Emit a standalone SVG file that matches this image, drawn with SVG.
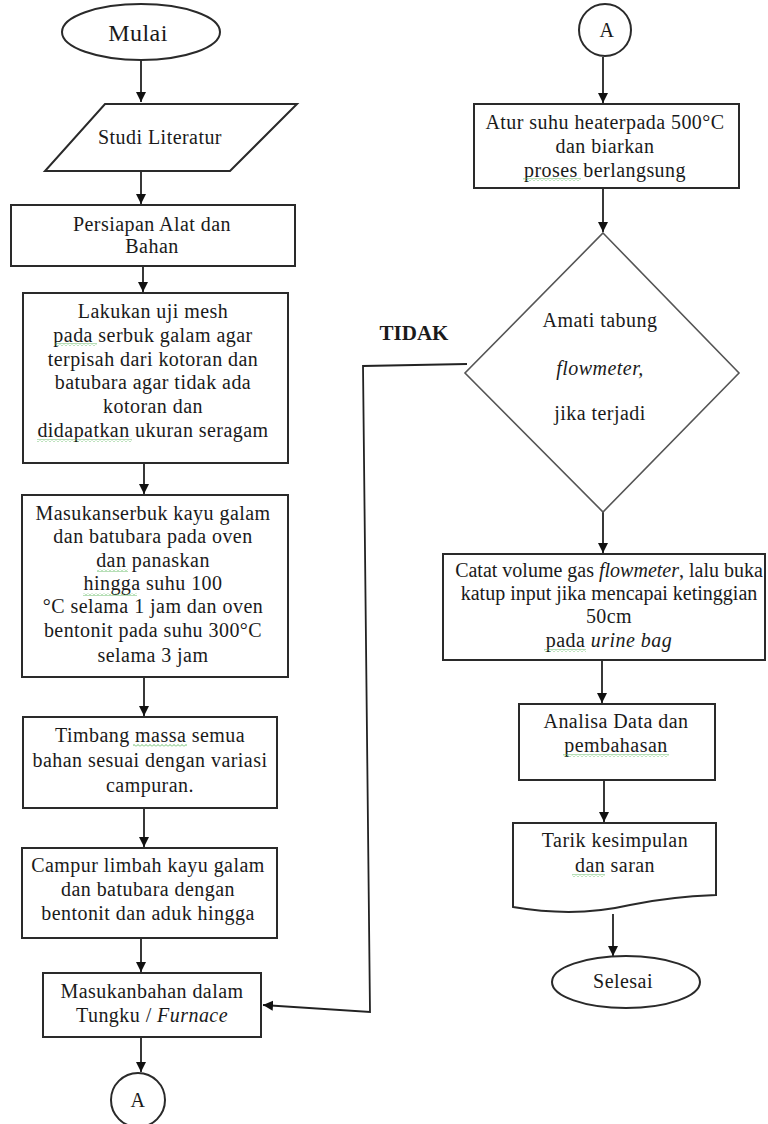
<svg xmlns="http://www.w3.org/2000/svg" width="768" height="1124" viewBox="0 0 768 1124">
<style>
.n{fill:#fff;stroke:#2a2a2a;stroke-width:2}
.d{fill:#fff;stroke:#555;stroke-width:1.6}
.t{font-family:"Liberation Serif","Times New Roman",serif;font-size:20px;fill:#1a1a1a;text-anchor:middle;letter-spacing:0.45px}
.k{letter-spacing:0}
.i{font-style:italic}
.b{font-weight:bold}
.c{fill:none;stroke:#222;stroke-width:1.8}
.g{fill:url(#wv)}
</style>
<defs>
<marker id="ah" markerWidth="12" markerHeight="12" refX="10" refY="5" orient="auto" markerUnits="userSpaceOnUse">
<path d="M0,0 L10,5 L0,10 Z" fill="#111"/>
</marker>
<pattern id="wv" patternUnits="userSpaceOnUse" width="4" height="3">
<path d="M0,2.5 L2,0.5 L4,2.5" fill="none" stroke="#5cb85c" stroke-width="0.9"/>
</pattern>
</defs>
<rect width="768" height="1124" fill="#fff"/>
<g id="connectors">
<line class="c" x1="141" y1="60" x2="141" y2="102" marker-end="url(#ah)"/>
<line class="c" x1="141" y1="171" x2="141" y2="204" marker-end="url(#ah)"/>
<line class="c" x1="143" y1="266" x2="143" y2="292" marker-end="url(#ah)"/>
<line class="c" x1="144" y1="463" x2="144" y2="494" marker-end="url(#ah)"/>
<line class="c" x1="144" y1="677" x2="144" y2="716" marker-end="url(#ah)"/>
<line class="c" x1="144" y1="808" x2="144" y2="847" marker-end="url(#ah)"/>
<line class="c" x1="141" y1="938" x2="141" y2="972" marker-end="url(#ah)"/>
<line class="c" x1="141" y1="1037" x2="141" y2="1072" marker-end="url(#ah)"/>
<line class="c" x1="603" y1="57" x2="603" y2="103" marker-end="url(#ah)"/>
<line class="c" x1="603" y1="188" x2="603" y2="232" marker-end="url(#ah)"/>
<line class="c" x1="603" y1="512" x2="603" y2="553" marker-end="url(#ah)"/>
<line class="c" x1="602" y1="660" x2="602" y2="703" marker-end="url(#ah)"/>
<line class="c" x1="604" y1="780" x2="604" y2="822" marker-end="url(#ah)"/>
<line class="c" x1="613" y1="914" x2="613" y2="956" marker-end="url(#ah)"/>
<polyline class="c" points="467,364 363,366 370,1012 263,1005" marker-end="url(#ah)" stroke="#444"/>
</g>
<g id="n-mulai"><ellipse class="n" cx="141" cy="32" rx="79" ry="28"/><text class="t" x="138" y="41" style="font-size:24px">Mulai</text></g>
<g id="n-studi"><polygon class="n" points="105,104 297,104 230,171 45,171"/><text class="t" x="160" y="144">Studi Literatur</text></g>
<g id="n-persiapan"><rect class="n" x="11" y="205" width="284" height="61"/><text class="t" x="152" y="231">Persiapan Alat dan</text><text class="t" x="152" y="253">Bahan</text></g>
<g id="n-mesh"><rect class="n" x="23" y="293" width="265" height="170"/>
<text class="t" x="153" y="318">Lakukan uji mesh</text>
<text class="t" x="153" y="342">pada serbuk galam agar</text>
<text class="t" x="153" y="366">terpisah dari kotoran dan</text>
<text class="t" x="153" y="389">batubara agar tidak ada</text>
<text class="t" x="153" y="413">kotoran dan</text>
<text class="t" x="153" y="437">didapatkan ukuran seragam</text></g>
<g id="n-oven"><rect class="n" x="22" y="495" width="266" height="182"/>
<text class="t" x="153" y="520">Masukanserbuk kayu galam</text>
<text class="t" x="153" y="543">dan batubara pada oven</text>
<text class="t" x="153" y="567">dan panaskan</text>
<text class="t" x="153" y="590">hingga suhu 100</text>
<text class="t" x="153" y="613">°C selama 1 jam dan oven</text>
<text class="t" x="153" y="637">bentonit pada suhu 300°C</text>
<text class="t" x="153" y="662">selama 3 jam</text></g>
<g id="n-timbang"><rect class="n" x="23" y="717" width="254" height="91"/>
<text class="t" x="150" y="742">Timbang massa semua</text>
<text class="t" x="150" y="767">bahan sesuai dengan variasi</text>
<text class="t" x="150" y="792">campuran.</text></g>
<g id="n-campur"><rect class="n" x="22" y="848" width="255" height="90"/>
<text class="t" x="148" y="872">Campur limbah kayu galam</text>
<text class="t" x="148" y="896">dan batubara dengan</text>
<text class="t" x="148" y="920">bentonit dan aduk hingga</text></g>
<g id="n-tungku"><rect class="n" x="43" y="973" width="218" height="64"/>
<text class="t" x="152" y="998">Masukanbahan dalam</text>
<text class="t" x="152" y="1022">Tungku / <tspan class="i">Furnace</tspan></text></g>
<g id="n-a-bottom"><circle class="n" cx="138" cy="1100" r="27"/><text class="t" x="138" y="1107">A</text></g>
<g id="n-a-top"><circle class="n" cx="605" cy="30" r="26"/><text class="t" x="607" y="37">A</text></g>
<g id="n-heater"><rect class="n" x="474" y="104" width="265" height="84"/>
<text class="t" x="605" y="129">Atur suhu heaterpada 500°C</text>
<text class="t" x="605" y="153">dan biarkan</text>
<text class="t" x="605" y="177">proses berlangsung</text></g>
<g id="n-amati"><polygon class="d" points="603,233 739,373 603,512 465,373"/>
<text class="t" x="600" y="327">Amati tabung</text>
<text class="t i" x="600" y="375">flowmeter,</text>
<text class="t" x="600" y="420">jika terjadi</text></g>
<text class="t b k" x="414" y="340" style="font-size:21px">TIDAK</text>
<g id="n-catat"><rect class="n" x="443" y="554" width="322" height="106"/>
<text class="t k" x="609" y="577">Catat volume gas <tspan class="i">flowmeter</tspan>, lalu buka</text>
<text class="t k" x="609" y="600">katup input jika mencapai ketinggian</text>
<text class="t" x="609" y="623">50cm</text>
<text class="t" x="609" y="647">pada <tspan class="i">urine bag</tspan></text></g>
<g id="n-analisa"><rect class="n" x="519" y="704" width="196" height="76"/>
<text class="t" x="616" y="728">Analisa Data dan</text>
<text class="t" x="616" y="752">pembahasan</text></g>
<g id="n-tarik"><path class="n" d="M513,823 H716 V895 C690,896 663,898 630,905 C600,912 560,915 513,907 Z"/>
<text class="t" x="615" y="847">Tarik kesimpulan</text>
<text class="t" x="615" y="872">dan saran</text></g>
<g id="n-selesai"><ellipse class="n" cx="626" cy="982" rx="74" ry="26"/><text class="t" x="623" y="988">Selesai</text></g>
<g id="spellcheck-marks">
<rect class="g" x="55" y="343" width="42" height="3"/>
<rect class="g" x="37" y="439" width="95" height="3"/>
<rect class="g" x="97" y="569" width="31" height="3"/>
<rect class="g" x="83" y="593" width="54" height="3"/>
<rect class="g" x="133" y="744" width="54" height="3"/>
<rect class="g" x="523" y="178" width="58" height="3"/>
<rect class="g" x="544" y="649" width="42" height="3"/>
<rect class="g" x="563" y="754" width="106" height="3"/>
<rect class="g" x="572" y="874" width="33" height="3"/>
</g>
</svg>
